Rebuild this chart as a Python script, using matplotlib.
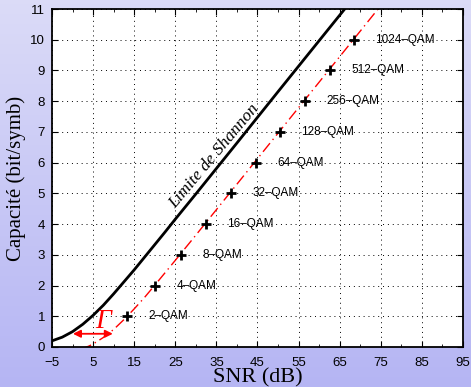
import numpy as np
import matplotlib
matplotlib.use("Agg")
import matplotlib.pyplot as plt
from matplotlib.ticker import MultipleLocator

# Shannon limit, points
shannon_snr = [-5, -2.5, 0, 2.5, 5, 7.5, 10, 12.5, 15, 17.5, 20, 22.5, 25, 30, 40, 50, 60, 67]
shannon_cap = [0.20, 0.32, 0.50, 0.74, 1.03, 1.36, 1.73, 2.12, 2.51, 2.92, 3.33, 3.74, 4.16,
               4.98, 6.64, 8.31, 9.97, 11.13]

# practical (gap) curve, dash-dot red
gap_snr = [2, 3, 4, 5, 6, 7.5, 10, 12.5, 15, 17.5, 20, 25, 30, 40, 50, 60, 70, 76]
gap_cap = [-0.07, -0.02, 0.03, 0.10, 0.18, 0.31, 0.57, 0.89, 1.24, 1.61, 2.01, 2.82, 3.64,
           5.30, 6.96, 8.62, 10.28, 11.28]

# QAM operating points
qam_labels = ["2\u2013QAM", "4\u2013QAM", "8\u2013QAM", "16\u2013QAM", "32\u2013QAM",
              "64\u2013QAM", "128\u2013QAM", "256\u2013QAM", "512\u2013QAM", "1024\u2013QAM"]
qam_snr = [13.2, 20.1, 26.4, 32.5, 38.6, 44.6, 50.5, 56.6, 62.6, 68.4]
qam_cap = [1, 2, 3, 4, 5, 6, 7, 8, 9, 10]

fig = plt.figure(figsize=(4.71, 3.87), dpi=100)

# lavender gradient background
bg = fig.add_axes([0, 0, 1, 1], zorder=-10)
top = np.array([0.86, 0.86, 0.97])
bot = np.array([0.71, 0.71, 0.955])
t = np.linspace(0, 1, 256)[:, None, None]
grad = top * (1 - t) + bot * t
bg.imshow(np.repeat(grad, 2, axis=1), aspect="auto", extent=[0, 1, 0, 1])
bg.axis("off")

ax = fig.add_axes([0.1104, 0.1034, 0.8726, 0.8733])
ax.set_facecolor("white")

ax.plot(shannon_snr, shannon_cap, color="black", lw=2.0, solid_capstyle="butt")
ax.plot(gap_snr, gap_cap, color="red", lw=1.0, linestyle=(0, (8, 3, 1, 3)))
ax.plot(qam_snr, qam_cap, linestyle="none", marker="+", color="black", ms=7, mew=2)

for lab, x, y in zip(qam_labels, qam_snr, qam_cap):
    ax.text(x + 5.2, y, lab, fontsize=8.5, family="Liberation Sans", va="center", ha="left")

ax.annotate("", xy=(0.1, 0.43), xytext=(9.8, 0.43),
            arrowprops=dict(arrowstyle="<|-|>", color="red", lw=1.3,
                            mutation_scale=11, shrinkA=0, shrinkB=0))
ax.text(7.4, 0.84, "\u0393", color="red", fontsize=20, style="italic",
        family="Liberation Serif", ha="center", va="center")

ax.text(34.4, 6.2, "Limite de Shannon", rotation=50, fontsize=12.5, style="italic",
        family="Liberation Serif", ha="center", va="center", rotation_mode="anchor")

ax.set_xlim(-5, 95)
ax.set_ylim(0, 11)
ax.xaxis.set_minor_locator(MultipleLocator(5))
ax.yaxis.set_major_locator(MultipleLocator(1))
ax.set_xticks(np.arange(-5, 96, 10))
ax.tick_params(which="both", direction="in", top=True, right=True, labelsize=9.5)
ax.tick_params(which="major", length=4)
ax.tick_params(which="minor", length=2)
ax.tick_params(axis="x", pad=7)
ax.tick_params(axis="y", pad=5)
for lab in ax.get_xticklabels() + ax.get_yticklabels():
    lab.set_family("Liberation Sans")
ax.grid(True, which="major", linestyle=(0, (1, 4)), color="black", lw=0.7)
for s in ax.spines.values():
    s.set_linewidth(1.3)

ax.set_xlabel("SNR (dB)", fontsize=16, family="Liberation Serif", labelpad=0)
ax.set_ylabel("Capacité (bit/symb)", fontsize=15, family="Liberation Serif", labelpad=3)

fig.savefig("out.png", dpi=100)
